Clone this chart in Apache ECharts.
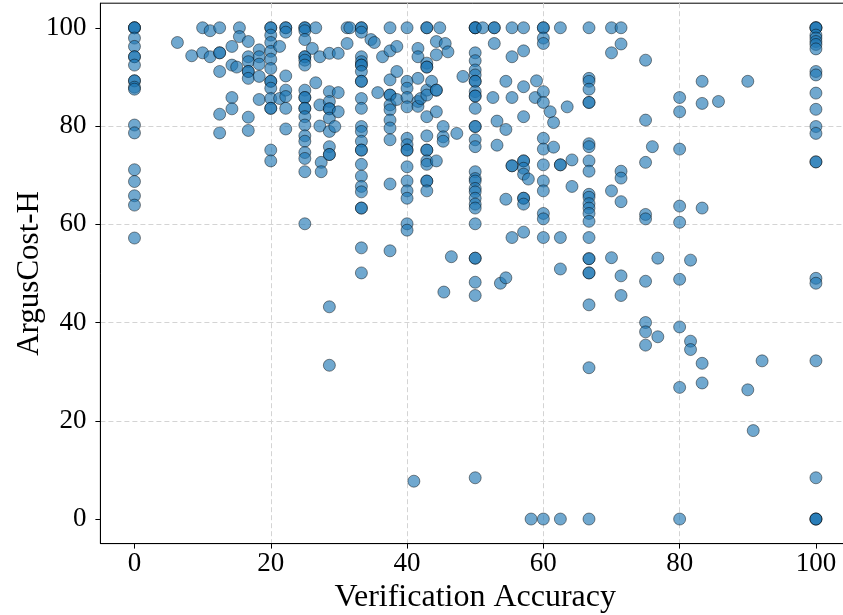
<!DOCTYPE html>
<html>
<head>
<meta charset="utf-8">
<script src="https://cdn.jsdelivr.net/npm/echarts@6/dist/echarts.min.js"></script>
<style>
html,body{margin:0;padding:0;background:#fff;}
#chart{width:843px;height:615px;}
</style>
</head>
<body>
<div id="chart"></div>
<script>
// Verification Accuracy value of each column of points
const accuracyColumns = [0, 6.3, 8.4, 10, 11.1, 12.5, 14.3, 15.0, 15.4, 16.7, 18.3, 20, 21.3, 22.2, 25, 26.1, 26.6, 27.2, 27.4, 28.6,
  29.4, 29.9, 31.2, 31.6, 33.3, 34.7, 35.2, 35.7, 36.4, 37.5, 38.5, 40, 41.0, 41.6, 42.0, 42.9, 43.6, 44.3, 44.8, 45.3,
  45.4, 45.6, 46.0, 46.5, 47.3, 48.2, 50, 51.1, 52.6, 52.8, 53.2, 53.7, 54.5, 55.4, 57.1, 57.8, 58.2, 58.8, 59.0, 60,
  61.0, 61.5, 62.5, 63.5, 64.2, 66.7, 70, 71.4, 75, 76.0, 76.8, 80, 81.6, 83.3, 85.7, 90, 90.8, 92.1, 100];
// ArgusCost-H values of the points in each column (same order)
const argusCostColumns = [
  [100,100,100,97.9,96.2,94.1,94.1,92.4,89.2,89.2,87.9,87.5,80.2,78.6,71.1,68.7,65.8,63.9,57.2], // 0
  [97.0], [94.3], [100,94.9], [99.4,94.1],
  [100,94.9,94.9,91.1,82.4,78.6], // 12.5
  [96.2,92.4,85.8,83.5], [92.0], [100,98.2],
  [97.2,94.1,93.1,91.1,91.1,89.7,81.8,79.1], // 16.7
  [95.5,94.1,92.6,90.1,85.4],
  [100,100,98.5,97.0,95.2,93.6,91.7,89.1,89.1,87.7,85.6,83.6,83.6,75.1,72.9], // 20
  [96.2,85.6],
  [100,100,99.1,90.2,87.3,86.0,83.6,79.4], // 22.2
  [100,100,99.4,97.6,94.1,94.1,93.4,92.4,87.3,85.8,85.8,83.6,83.6,81.9,80.2,78.0,76.9,74.6,73.4,70.7,60.1], // 25
  [95.8], [100,88.8], [94.1,84.3,80.0], [72.6,70.7],
  [94.8,87.0,85.0,83.5,83.5,81.6,78.9,75.8,74.2,74.2,43.2,31.3], // 28.6
  [79.9], [94.8,86.8,82.9], [100,96.8], [100],
  [100,100,99.1,94.1,93.1,92.4,92.4,91.1,89.1,89.1,85.6,83.6,79.9,78.9,76.9,75.1,75.1,72.2,69.8,67.7,66.6,63.3,63.3,55.2,50.1], // 33.3
  [97.6], [97.0], [86.8], [94.1],
  [100,95.3,89.4,86.3,86.3,84.3,83.3,81.2,79.6,77.2,68.2,54.6], // 37.5
  [96.2,91.1,85.4],
  [100,89.1,87.7,85.8,83.9,77.5,76.2,75.1,75.1,71.7,68.8,66.8,65.3,60.1,58.8], // 40
  [7.7], [95.8,94.1,89.7,85.0,84.0], [85.6],
  [100,100,92.8,92.0,92.0,87.3,86.3,81.9,78.0,75.1,75.1,72.9,72.2,68.8,68.8,66.8], // 42.9
  [89.1], [97.2,94.5,87.3,87.3,82.9,72.9], [100], [79.9,77.8,76.9],
  [46.2], [96.8], [95.1], [53.4], [78.5], [90.1],
  [100,100,100,94.9,93.3,91.4,90.4,89.1,89.1,87.0,86.1,86.1,83.6,79.9,79.9,77.2,75.8,70.7,69.3,68.8,67.3,66.6,65.3,64.1,63.3,60.1,53.1,53.1,48.2,45.5,8.4], // 50
  [100], [85.8], [100,100,96.8], [81.0,76.1], [48.0], [89.1,79.3,65.1,49.1],
  [100,94.1,85.8,71.9,71.9,57.3], // 55.4
  [100,95.3,88.0,81.9,72.9,72.9,71.4,70.2,65.3,65.3,64.1,58.4], // 57.1
  [69.2], [0], [85.8], [89.2],
  [100,100,97.9,96.8,87.0,84.8,77.5,75.3,72.1,68.8,66.8,62.2,61.1,57.3,0], // 60
  [82.9], [80.7,75.7], [100,72.1,72.1,57.3,50.9,0], [83.9], [73.1,67.7],
  [100,89.7,89.1,87.5,84.8,84.8,76.4,75.8,72.9,70.8,66.1,65.5,64.2,63.3,62.2,60.6,57.3,53.0,53.0,50.1,50.1,43.6,30.8,0], // 66.7
  [100,94.9,66.8,53.2], // 70
  [100,96.7,70.8,69.4,64.6,49.5,45.5], // 71.4
  [93.4,81.2,72.6,62.0,61.1,48.4,40.0,38.1,35.4], // 75
  [75.8], [53.1,37.1],
  [85.8,82.9,75.3,63.7,60.4,48.8,39.1,26.8,0], // 80
  [52.7,36.2,34.5], [89.1,84.6,63.3,31.7,27.7], [85.0], [89.1,26.3], [18.0], [32.2],
  [100,100,100,98.5,97.9,97.2,96.6,95.7,91.1,90.4,86.7,83.4,79.9,78.5,72.7,72.7,49.0,48.0,32.2,8.4,0,0,0] // 100
];
const tickValues = [0, 20, 40, 60, 80, 100];

const points = [];
accuracyColumns.forEach((x, i) => {
  argusCostColumns[i].forEach(y => points.push([x, y]));
});

const font = '"Liberation Serif", "DejaVu Serif", serif';
const chart = echarts.init(document.getElementById('chart'), null, {renderer: 'canvas'});
const gridLine = {show: true, showMinLine: false, showMaxLine: false,
  lineStyle: {color: '#d4d4d4', type: [5, 3], width: 1}};
const xMin = -5, xMax = 105, yMin = -5, yMax = 105;
chart.setOption({
  animation: false,
  backgroundColor: '#ffffff',
  grid: {left: 100.4, top: 3.2, width: 749.6, height: 540.4, containLabel: false, outerBoundsMode: 'none',
    show: true, borderColor: '#000', borderWidth: 1, backgroundColor: 'transparent'},
  xAxis: [{
    type: 'value', min: xMin, max: xMax, splitNumber: 5,
    name: 'Verification Accuracy', nameLocation: 'middle', nameGap: 38, nameMoveOverlap: false,
    nameTextStyle: {fontFamily: font, fontSize: 32, color: '#000'},
    axisLine: {show: true, onZero: false, lineStyle: {color: '#000', width: 1}},
    axisTick: {show: true, inside: false, length: 5, customValues: tickValues, lineStyle: {color: '#000'}},
    axisLabel: {fontFamily: font, fontSize: 27, color: '#000', margin: 7, customValues: tickValues},
    splitLine: gridLine
  }],
  yAxis: {
    type: 'value', min: yMin, max: yMax, splitNumber: 5,
    name: 'ArgusCost-H', nameLocation: 'middle', nameGap: 55, nameRotate: 90, nameMoveOverlap: false,
    nameTextStyle: {fontFamily: font, fontSize: 31, color: '#000'},
    axisLine: {show: true, onZero: false, lineStyle: {color: '#000', width: 1}},
    axisTick: {show: true, inside: false, length: 5, customValues: tickValues, lineStyle: {color: '#000'}},
    axisLabel: {fontFamily: font, fontSize: 27, color: '#000', margin: 14, customValues: tickValues},
    splitLine: gridLine
  },
  series: [{
    type: 'scatter',
    data: points,
    symbol: 'circle',
    symbolSize: 12,
    itemStyle: {color: 'rgba(31,119,180,0.8)', borderColor: 'rgba(0,0,0,0.8)', borderWidth: 0.7},
    emphasis: {disabled: true}
  }]
});
</script>
</body>
</html>
